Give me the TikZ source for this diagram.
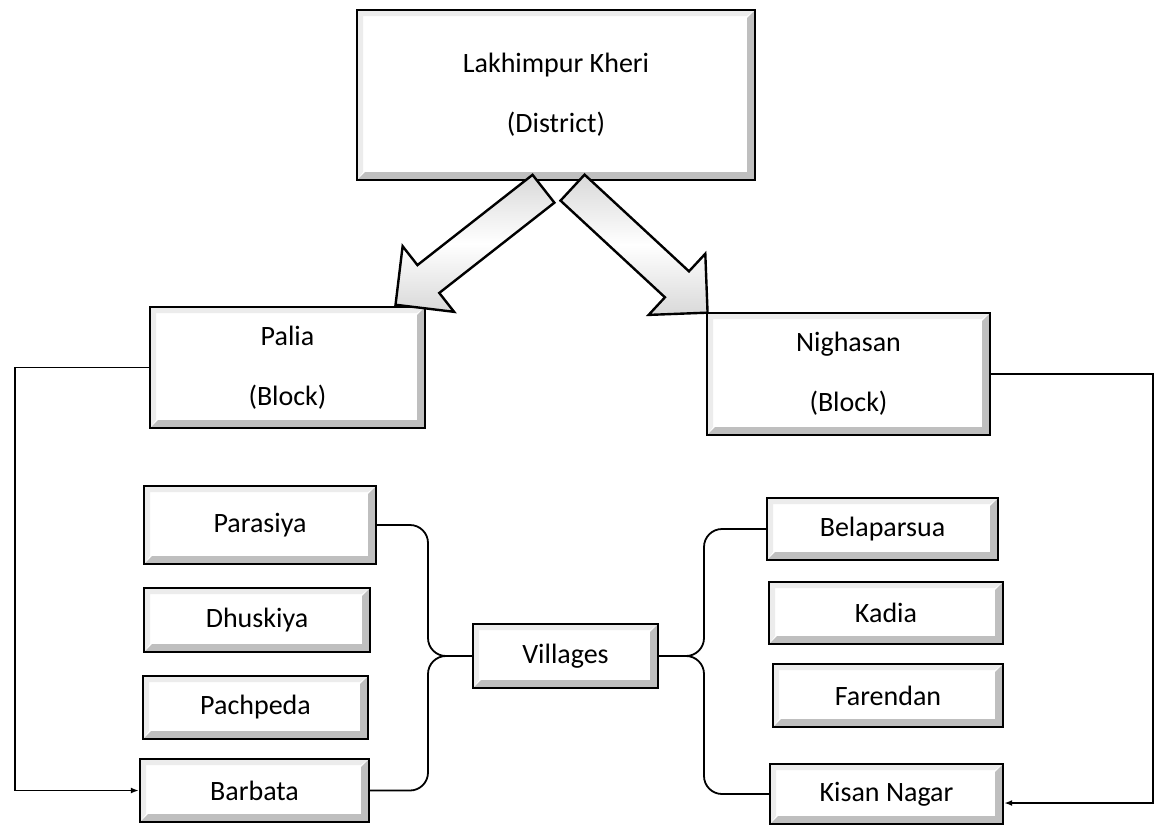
\documentclass[tikz,border=0pt]{standalone}
\usepackage{fontspec}
\setmainfont{Carlito}
\usepackage{tikz}
\usetikzlibrary{arrows.meta, positioning, calc, shapes.arrows}
\tikzset{
    % bevelled box used for district, blocks and villages
    bevel/.style={draw, line width=1.2pt, fill=white, align=center,
        font=\fontsize{14}{30}\selectfont, inner sep=2pt,
        path picture={
            \fill[gray!50]
                (path picture bounding box.south west) --
                (path picture bounding box.south east) --
                (path picture bounding box.north east) --
                ([shift={(-4pt,-4pt)}]path picture bounding box.north east) --
                ([shift={(-4pt,4pt)}]path picture bounding box.south east) --
                ([shift={(4pt,4pt)}]path picture bounding box.south west) -- cycle;
            \fill[gray!15]
                (path picture bounding box.south west) --
                (path picture bounding box.north west) --
                (path picture bounding box.north east) --
                ([shift={(-4pt,-3pt)}]path picture bounding box.north east) --
                ([shift={(3pt,-3pt)}]path picture bounding box.north west) --
                ([shift={(3pt,4pt)}]path picture bounding box.south west) -- cycle;
        }},
    % big hollow arrow from district to block
    blockarrow/.style={single arrow, draw, line width=1.2pt, anchor=tip,
        inner xsep=0pt, inner ysep=8.25pt, single arrow head extend=12pt,
        minimum width=40.5pt, top color=gray!30, bottom color=gray!30,
        middle color=white},
    % thin connectors
    link/.style={-{Latex[length=4pt, width=3pt]}, line width=0.9pt},
    brk/.style={line width=0.9pt, rounded corners=9pt},
}

\begin{document}
\begin{tikzpicture}[x=0.5pt, y=-0.5pt]
    \useasboundingbox (0,0) rectangle (1167,825);

    % --- district and blocks ---
    \node[bevel, minimum width=199pt, minimum height=85pt] (district) at (556,95)
        {Lakhimpur Kheri\\(District)};
    \node[bevel, minimum width=137.5pt, minimum height=60.5pt] (palia) at (287.5,367.5)
        {Palia\\(Block)};
    \node[bevel, minimum width=141.5pt, minimum height=61pt] (nighasan) at (848.5,374)
        {Nighasan\\(Block)};

    % --- villages of Palia ---
    \node[bevel, minimum width=116pt, minimum height=39pt] (parasiya) at (260,525) {Parasiya};
    \node[bevel, minimum width=113pt, minimum height=32pt] (dhuskiya) at (257,620) {Dhuskiya};
    \node[bevel, minimum width=112.5pt, minimum height=31.5pt] (pachpeda) at (255.5,707.5) {Pachpeda};
    \node[bevel, minimum width=114.5pt, minimum height=31.5pt] (barbata) at (254.5,790.5) {Barbata};

    \node[bevel, minimum width=92.5pt, minimum height=32pt] (villages) at (565.5,656) {Villages};

    % --- villages of Nighasan ---
    \node[bevel, minimum width=115.5pt, minimum height=31pt] (belaparsua) at (882.5,529) {Belaparsua};
    \node[bevel, minimum width=117pt, minimum height=31pt] (kadia) at (886,613) {Kadia};
    \node[bevel, minimum width=115pt, minimum height=31.5pt] (farendan) at (888,695.5) {Farendan};
    \node[bevel, minimum width=116.5pt, minimum height=30pt] (kisan) at (886.5,794) {Kisan Nagar};

    % district -> blocks (hollow arrows)
    \node[blockarrow, rotate=218.1, minimum height=94pt] (arrL)
        at ($(palia.north east)+(-32,0)$) {};
    \node[blockarrow, rotate=-42.8, minimum height=92pt] (arrR)
        at ($(nighasan.north west)+(3,2)$) {};

    % block -> last village
    \coordinate (lrail) at (15,0);
    \coordinate (rrail) at (1153,0);
    \draw[link] (palia.west) -- (palia.west -| lrail) -- (lrail |- barbata.west) -- (barbata.west);
    \draw[link] (nighasan.east) -- (nighasan.east -| rrail)
        -- (rrail |- {$(kisan.east)+(0,9)$}) -- ($(kisan.east)+(0,9)$);

    % brackets into Villages
    \coordinate (lbr) at (428,0);
    \coordinate (rbr) at (704,0);
    \draw[brk] (parasiya.east) -- (parasiya.east -| lbr) -- (lbr |- villages.west) -- (villages.west);
    \draw[brk] (barbata.east) -- (barbata.east -| lbr) -- (lbr |- villages.west) -- (villages.west);
    \draw[brk] (villages.east) -- (rbr |- villages.east) -- (rbr |- belaparsua.west) -- (belaparsua.west);
    \draw[brk] (villages.east) -- (rbr |- villages.east) -- (rbr |- kisan.west) -- (kisan.west);

\end{tikzpicture}
\end{document}
